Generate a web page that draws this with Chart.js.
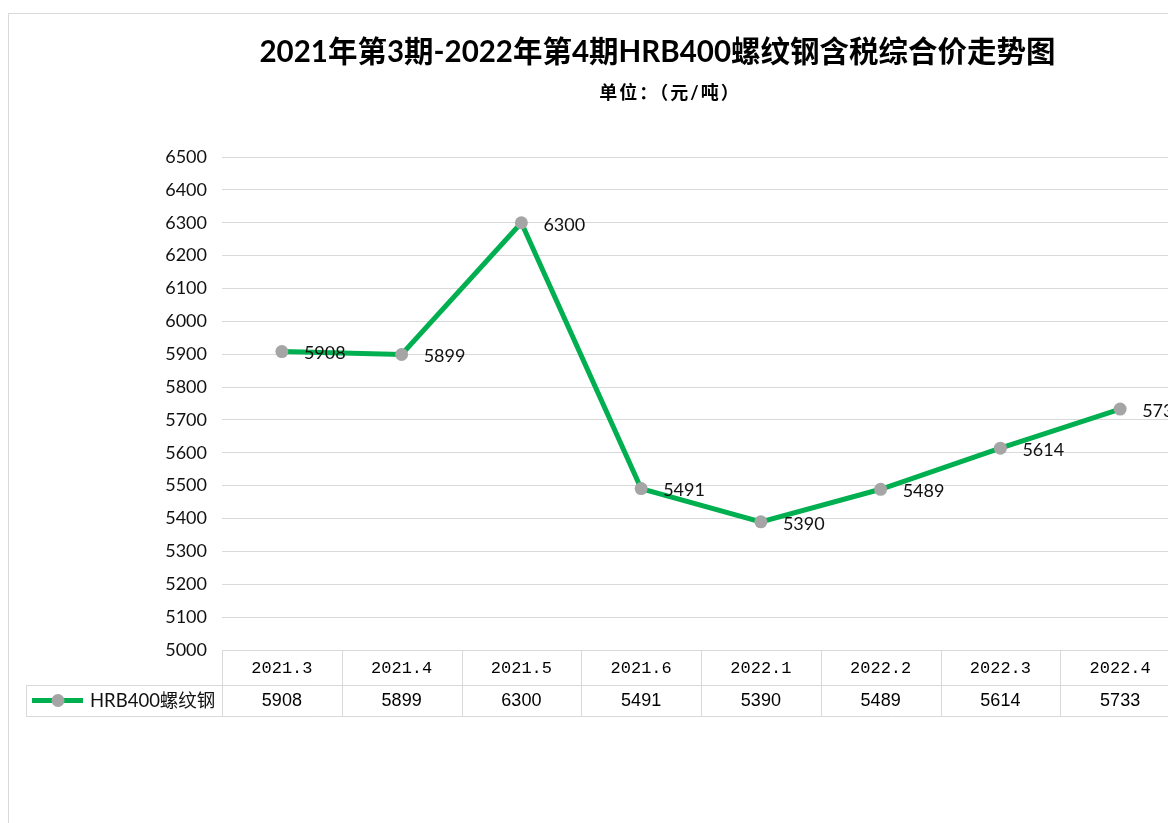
<!DOCTYPE html>
<html><head><meta charset="utf-8">
<script src="https://cdn.jsdelivr.net/npm/chart.js@4/dist/chart.umd.min.js"></script>
<style>
html,body{margin:0;padding:0;background:#fff;overflow:hidden;width:1168px;height:823px}
#frame{position:absolute;left:8px;top:13px;width:1320px;height:900px;border:1px solid #d9d9d9;box-sizing:border-box}
#wrap{position:absolute;left:0;top:0;width:1315px;height:823px}
</style></head><body>
<div id="frame"></div>
<div id="wrap"><canvas id="c" width="1315" height="823" style="width:1315px;height:823px"></canvas></div>
<script>
const titleText = '2021年第3期-2022年第4期HRB400螺纹钢含税综合价走势图';
const subtitleText = '单位：（元/吨）';
const seriesName = 'HRB400螺纹钢';
const categories = ['2021.3','2021.4','2021.5','2021.6','2022.1','2022.2','2022.3','2022.4'];
const prices = [5908, 5899, 6300, 5491, 5390, 5489, 5614, 5733];
const yMin = 5000, yMax = 6500, yStep = 100;

const FONT = "Lato, 'Noto Sans CJK SC', sans-serif";
const GREEN = '#00B050', GREY = '#A5A5A5', GRID = '#d9d9d9';

const titlePlugin = {
  id: 'titles',
  afterDraw(chart) {
    const ctx = chart.ctx;
    ctx.save();
    ctx.fillStyle = '#000';
    ctx.textAlign = 'center';
    ctx.textBaseline = 'middle';
    ctx.font = 'bold 29.5px ' + FONT;
    ctx.fillText(titleText, chart.width / 2, 52);
    ctx.font = 'bold 18px ' + FONT;
    ctx.letterSpacing = '2px';
    ctx.fillText(subtitleText, 670, 93);
    ctx.restore();
  }
};

const labelPlugin = {
  id: 'pointLabels',
  afterDatasetsDraw(chart) {
    const ctx = chart.ctx;
    const meta = chart.getDatasetMeta(0);
    ctx.save();
    ctx.fillStyle = '#111';
    ctx.font = '18px ' + FONT;
    ctx.textAlign = 'left';
    ctx.textBaseline = 'middle';
    meta.data.forEach((el, i) => {
      ctx.fillText(String(prices[i]), el.x + 22, el.y + 2);
    });
    ctx.restore();
  }
};

const tablePlugin = {
  id: 'dataTable',
  afterDraw(chart) {
    const ctx = chart.ctx;
    const area = chart.chartArea;
    const xs = chart.scales.x;
    const n = categories.length;
    const colW = (area.right - area.left) / n;
    const y0 = area.bottom, y1 = y0 + 35, y2 = y1 + 31;
    const legLeft = 26;
    ctx.save();
    ctx.strokeStyle = GRID;
    ctx.lineWidth = 1;
    ctx.beginPath();
    ctx.moveTo(area.left, y0 + 0.5); ctx.lineTo(area.right, y0 + 0.5);
    ctx.moveTo(legLeft, y1 + 0.5); ctx.lineTo(area.right, y1 + 0.5);
    ctx.moveTo(legLeft, y2 + 0.5); ctx.lineTo(area.right, y2 + 0.5);
    for (let i = 0; i <= n; i++) {
      const x = Math.round(area.left + i * colW) + 0.5;
      ctx.moveTo(x, y0); ctx.lineTo(x, y2);
    }
    ctx.moveTo(legLeft + 0.5, y1); ctx.lineTo(legLeft + 0.5, y2);
    ctx.stroke();

    ctx.fillStyle = '#000';
    ctx.textAlign = 'center';
    ctx.textBaseline = 'middle';
    categories.forEach((c, i) => {
      const cx = xs.getPixelForValue(i);
      ctx.font = "17px 'Liberation Mono', monospace";
      ctx.fillText(c, cx, (y0 + y1) / 2 + 1);
      ctx.font = "18px 'Liberation Sans', Arial, sans-serif";
      ctx.fillText(String(prices[i]), cx, (y1 + y2) / 2 + 1);
    });

    // legend key
    const my = (y1 + y2) / 2;
    ctx.strokeStyle = GREEN;
    ctx.lineWidth = 5;
    ctx.beginPath();
    ctx.moveTo(32, my); ctx.lineTo(83, my);
    ctx.stroke();
    ctx.fillStyle = GREY;
    ctx.beginPath();
    ctx.arc(58, my, 6.5, 0, Math.PI * 2);
    ctx.fill();
    ctx.fillStyle = '#111';
    ctx.textAlign = 'left';
    ctx.font = '18.5px ' + FONT;
    ctx.fillText(seriesName, 90, my + 1);
    ctx.restore();
  }
};

new Chart(document.getElementById('c'), {
  type: 'line',
  data: {
    labels: categories,
    datasets: [{
      label: seriesName,
      data: prices,
      borderColor: GREEN,
      borderWidth: 5,
      pointRadius: 6.5,
      pointBackgroundColor: GREY,
      pointBorderWidth: 0,
      tension: 0,
      fill: false
    }]
  },
  options: {
    responsive: false,
    animation: false,
    layout: { padding: { top: 157, right: 135, bottom: 173, left: 0 } },
    plugins: { legend: { display: false }, tooltip: { enabled: false }, title: { display: false } },
    scales: {
      x: { type: 'category', offset: true, display: false },
      y: {
        min: yMin, max: yMax,
        ticks: { stepSize: yStep, color: '#111', font: { family: FONT, size: 18 }, padding: 15,
                 callback: v => String(v) },
        grid: { color: GRID, drawTicks: false, lineWidth: 1 },
        border: { display: false },
        afterFit(s) { s.width = 222; }
      }
    }
  },
  plugins: [titlePlugin, labelPlugin, tablePlugin]
});
</script>
</body></html>
